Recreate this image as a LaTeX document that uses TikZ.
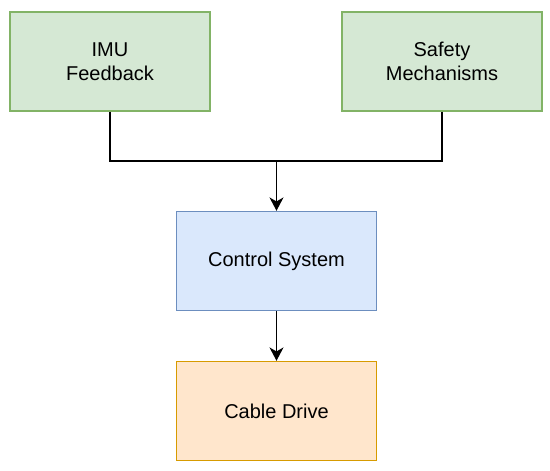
\documentclass[tikz,border=0pt]{standalone}
\usepackage{fontspec}
\setmainfont{Liberation Sans}
\usetikzlibrary{arrows.meta}
\definecolor{greenfill}{HTML}{D5E8D4}
\definecolor{greenline}{HTML}{82B366}
\definecolor{bluefill}{HTML}{DAE8FC}
\definecolor{blueline}{HTML}{6C8EBF}
\definecolor{orangefill}{HTML}{FFE6CC}
\definecolor{orangeline}{HTML}{D79B00}
\begin{document}
\begin{tikzpicture}[x=0.75pt,y=-0.75pt,
  block/.style={draw, line width=1.1pt, minimum width=150pt, minimum height=74.25pt,
    inner sep=0pt, align=center, font=\fontsize{15}{18}\selectfont},
  greenbox/.style={block, fill=greenfill, draw=greenline},
  bluebox/.style={block, fill=bluefill, draw=blueline},
  orangebox/.style={block, fill=orangefill, draw=orangeline},
  wire/.style={line width=1.1pt, black},
  arrowwire/.style={wire, -{Stealth[length=10pt, width=10.5pt, inset=3pt]}}]
\useasboundingbox (0,0) rectangle (550,471);
\node[greenbox] (imu) at (110,61.5) {IMU\\Feedback};
\node[greenbox] (safety) at (442,61.5) {Safety\\Mechanisms};
\node[bluebox] (ctrl) at (276.5,261) {Control System};
\node[orangebox] (cable) at (276.5,411) {Cable Drive};
\coordinate (join) at (276.5,161);
% inputs meet above the controller
\draw[wire] (imu.south) |- (join);
\draw[wire] (safety.south) |- (join);
\draw[arrowwire] (join) -- (ctrl.north);
\draw[arrowwire] (ctrl.south) -- (cable.north);
\end{tikzpicture}
\end{document}
